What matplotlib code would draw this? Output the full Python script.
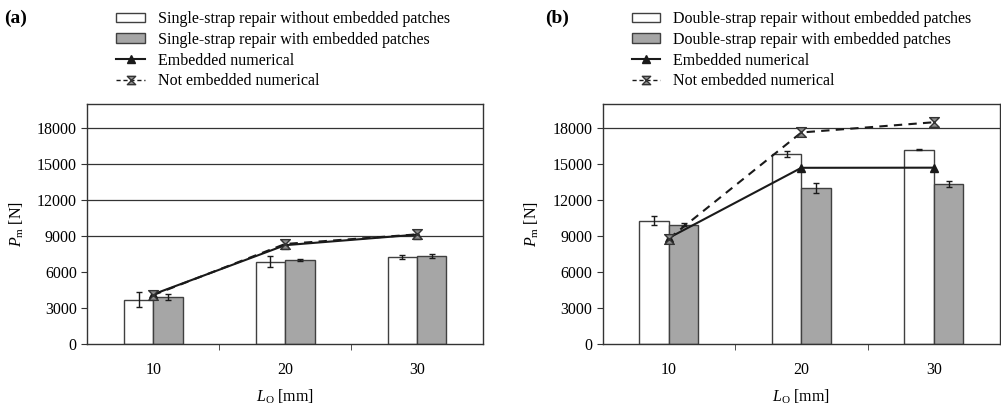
import numpy as np
import matplotlib.pyplot as plt
from matplotlib.patches import Patch
from matplotlib.lines import Line2D
from matplotlib.path import Path

plt.rcParams['font.family'] = ['Liberation Serif', 'DejaVu Serif']
plt.rcParams['mathtext.fontset'] = 'custom'
plt.rcParams['mathtext.rm'] = 'Liberation Serif'
plt.rcParams['mathtext.it'] = 'Liberation Serif:italic'

lengths = ['10', '20', '30']

# panel (a) single-strap
a_without = [3700, 6880, 7280]
a_without_err = [620, 450, 170]
a_with = [3950, 7000, 7360]
a_with_err = [260, 60, 190]
a_emb_num = [4160, 8250, 9130]
a_notemb_num = [4100, 8350, 9150]
a_grid = [9000, 12000, 15000, 18000]

# panel (b) double-strap
b_without = [10300, 15810, 16200]
b_without_err = [400, 250, 60]
b_with = [9960, 13040, 13370]
b_with_err = [100, 420, 250]
b_emb_num = [8860, 14690, 14700]
b_notemb_num = [8800, 17630, 18480]
b_grid = [18000]

GREY = '#a6a6a6'
EDGE = '#404040'
LINE = '#1a1a1a'

# hourglass marker (x with top and bottom bars)
hourglass = Path([(-1, 1), (1, 1), (-1, -1), (1, -1), (-1, 1)],
                 [Path.MOVETO, Path.LINETO, Path.LINETO, Path.LINETO, Path.CLOSEPOLY])

fig = plt.figure(figsize=(10.01, 4.08), dpi=100)


def panel(rect, tag, name, without, without_err, with_, with_err, emb, notemb, grid, tag_x):
    ax = fig.add_axes(rect)
    x = np.arange(len(lengths))
    w = 0.223
    for g in grid:
        ax.axhline(g, color='#333333', lw=0.9, zorder=0)
    ax.bar(x - w / 2, without, w, color='white', edgecolor=EDGE, lw=1.0, zorder=2)
    ax.bar(x + w / 2, with_, w, color=GREY, edgecolor=EDGE, lw=1.0, zorder=2)
    ax.errorbar(x - w / 2, without, yerr=without_err, fmt='none', ecolor=LINE,
                elinewidth=1.0, capsize=2.5, capthick=1.0, zorder=3)
    ax.errorbar(x + w / 2, with_, yerr=with_err, fmt='none', ecolor=LINE,
                elinewidth=1.0, capsize=2.5, capthick=1.0, zorder=3)
    ax.plot(x, emb, ls='-', color=LINE, lw=1.5, marker='^', ms=6, mfc=LINE,
            mec=LINE, zorder=4)
    ax.plot(x, notemb, ls=(0, (4, 3)), color=LINE, lw=1.5, marker=hourglass, ms=7,
            mfc='#8c8c8c', mew=1.0, mec='#333333', zorder=5)

    ax.set_xlim(-0.5, 2.5)
    ax.set_ylim(0, 20000)
    ax.set_yticks(np.arange(0, 18001, 3000))
    ax.set_xticks(x)
    ax.set_xticklabels(lengths)
    ax.set_xticks([0.5, 1.5], minor=True)
    ax.tick_params(axis='x', which='major', length=0, pad=13, labelsize=11.5)
    ax.tick_params(axis='x', which='minor', length=4, direction='out', color='#333333')
    ax.tick_params(axis='y', length=4, direction='out', labelsize=11.5, color='#333333')
    for s in ax.spines.values():
        s.set_color('#333333')
        s.set_linewidth(1.0)
    ax.set_ylabel(r'$P_{\mathrm{m}}$ [N]', fontsize=11.5, labelpad=8)
    ax.set_xlabel(r'$L_{\mathrm{O}}$ [mm]', fontsize=11.5, labelpad=7)

    handles = [
        Patch(facecolor='white', edgecolor=EDGE, lw=1.0),
        Patch(facecolor=GREY, edgecolor=EDGE, lw=1.0),
        Line2D([], [], color=LINE, lw=1.5, marker='^', ms=6),
        Line2D([], [], color=LINE, lw=1.0, ls=(0, (3, 2)), marker=hourglass, ms=6,
               mfc='#8c8c8c', mew=1.0, mec='#333333'),
    ]
    labels = [name + ' repair without embedded patches',
              name + ' repair with embedded patches',
              'Embedded numerical', 'Not embedded numerical']
    ax.legend(handles, labels, loc='upper left',
              bbox_to_anchor=(rect[0] + 0.029, 0.973), bbox_transform=fig.transFigure,
              frameon=False, fontsize=11.5, borderpad=0, borderaxespad=0,
              handlelength=1.8, handleheight=0.55, handletextpad=0.8, labelspacing=0.30)
    fig.text(tag_x, 0.955, tag, fontsize=14, fontweight='bold', va='center', ha='left')
    return ax


panel([0.0872, 0.1561, 0.3953, 0.589], '(a)', 'Single-strap', a_without, a_without_err,
      a_with, a_with_err, a_emb_num, a_notemb_num, a_grid, 0.004)
panel([0.6021, 0.1561, 0.3969, 0.589], '(b)', 'Double-strap', b_without, b_without_err,
      b_with, b_with_err, b_emb_num, b_notemb_num, b_grid, 0.545)

fig.savefig('out.png', dpi=100)
